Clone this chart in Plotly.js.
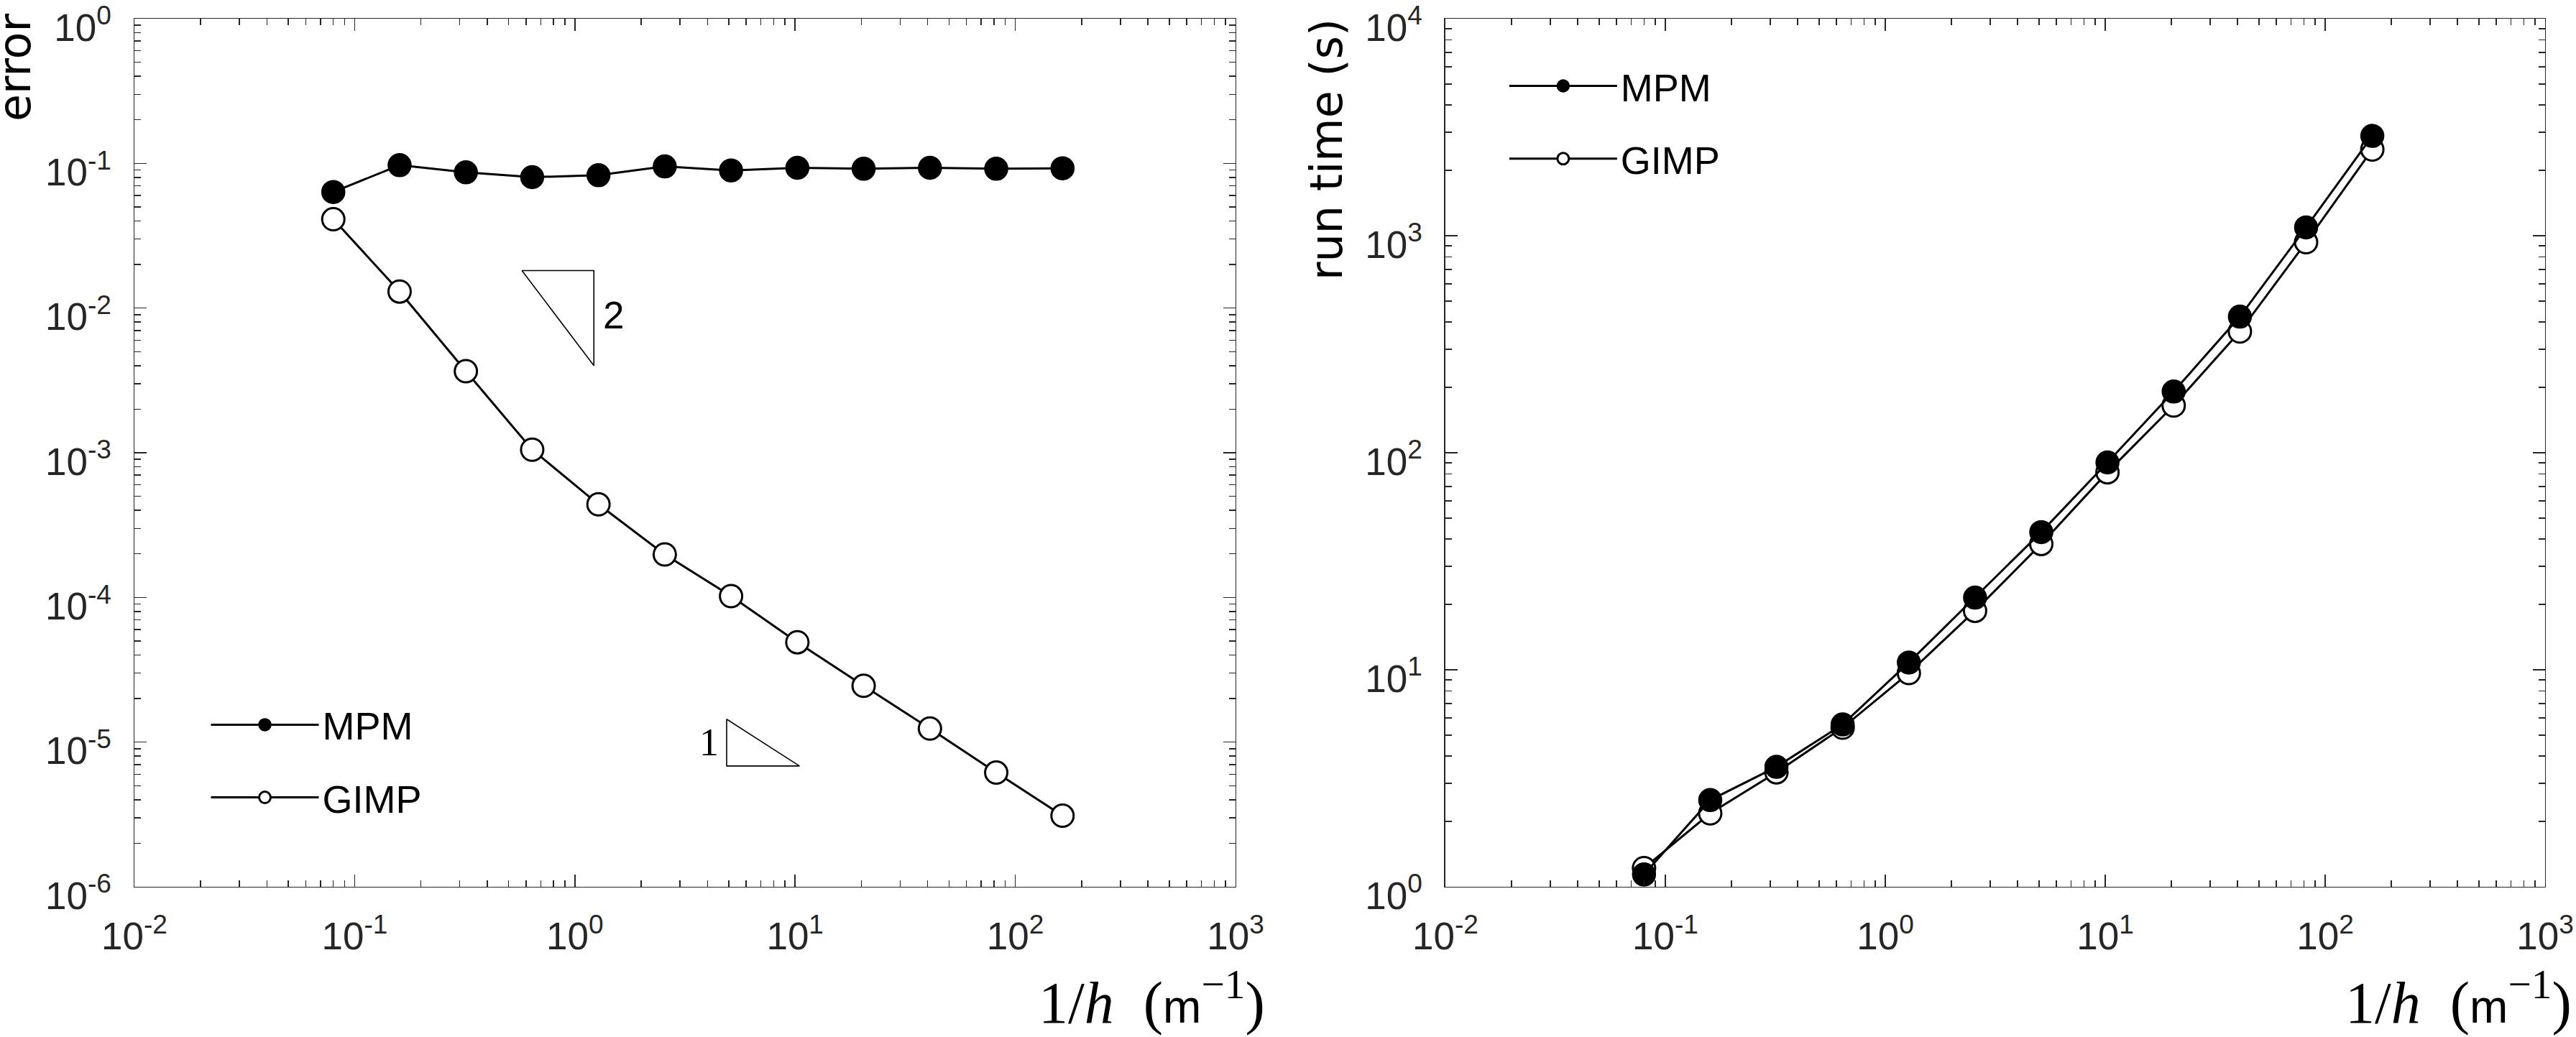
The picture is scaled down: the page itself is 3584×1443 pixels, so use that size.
<!DOCTYPE html>
<html><head><meta charset="utf-8">
<script src="https://cdn.plot.ly/plotly-3.0.1.min.js"></script>
<style>html,body{margin:0;padding:0;background:#fff;}</style>
</head><body><div id="plot" style="width:3584px;height:1443px;"></div>
<script>
// ---- data ----
const invH = [0.08, 0.16, 0.32, 0.64, 1.28, 2.56, 5.12, 10.24, 20.48, 40.96, 81.92, 163.84];
const errMPM = [0.0634, 0.0972, 0.0867, 0.0803, 0.0828, 0.0953, 0.0894, 0.0932, 0.0918, 0.0932, 0.0918, 0.0925];
const errGIMP = [0.0411, 0.0130, 0.00366, 0.00105, 0.00044, 0.000198, 0.000102, 0.000049, 0.0000245, 0.0000124, 0.00000616, 0.0000031];
const timeMPM = [1.14, 2.51, 3.57, 5.60, 10.8, 21.5, 43.1, 90.2, 191.5, 424, 1092, 2884];
const timeGIMP = [1.22, 2.18, 3.37, 5.41, 9.66, 18.7, 38.0, 81.3, 165, 362, 933, 2495];
const seriesNames = ['MPM', 'GIMP'];

const xTickVals = [0.01, 0.1, 1, 10, 100, 1000];
const xTickText = ['10<sup>-2</sup>', '10<sup>-1</sup>', '10<sup>0</sup>', '10<sup>1</sup>', '10<sup>2</sup>', '10<sup>3</sup>'];
const errTickVals = [1e-6, 1e-5, 1e-4, 1e-3, 1e-2, 1e-1, 1];
const errTickText = ['10<sup>-6</sup>', '10<sup>-5</sup>', '10<sup>-4</sup>', '10<sup>-3</sup>', '10<sup>-2</sup>', '10<sup>-1</sup>', '10<sup>0</sup>'];
const timeTickVals = [1, 10, 100, 1000, 10000];
const timeTickText = ['10<sup>0</sup>', '10<sup>1</sup>', '10<sup>2</sup>', '10<sup>3</sup>', '10<sup>4</sup>'];

// slope triangles (data units)
const slope2X = [0.575, 1.22, 1.22, 0.575];
const slope2Y = [0.01815, 0.01815, 0.0040, 0.01815];
const slope1X = [4.89, 4.89, 10.47, 4.89];
const slope1Y = [1.44e-5, 6.84e-6, 6.84e-6, 1.44e-5];
const slopeLabelText = ['2', '1'];
const slopeLabelX = [1.50, 4.07];
const slopeLabelY = [0.0089, 1.0e-5];

// ---- styles ----
const INK = '#262626';
const LW = 3;
const MS = 31;
const mpmMarker = {symbol: 'circle', size: MS, color: '#000', line: {color: '#000', width: 2.5}};
const gimpMarker = {symbol: 'circle', size: MS, color: '#fff', line: {color: '#000', width: 3}};

const traces = [
  {x: invH, y: errMPM, name: seriesNames[0], mode: 'lines+markers', xaxis: 'x', yaxis: 'y',
   line: {color: '#000', width: LW}, marker: mpmMarker, legend: 'legend', legendgroup: 'a', legendrank: 1},
  {x: invH, y: errGIMP, name: seriesNames[1], mode: 'lines+markers', xaxis: 'x', yaxis: 'y',
   line: {color: '#000', width: LW}, marker: gimpMarker, legend: 'legend', legendgroup: 'b', legendrank: 2},
  {x: slope2X, y: slope2Y, mode: 'lines', xaxis: 'x', yaxis: 'y', showlegend: false, hoverinfo: 'skip',
   line: {color: '#000', width: 1.6}},
  {x: slope1X, y: slope1Y, mode: 'lines', xaxis: 'x', yaxis: 'y', showlegend: false, hoverinfo: 'skip',
   line: {color: '#000', width: 1.6}},
  {x: invH, y: timeGIMP, name: seriesNames[1], mode: 'lines+markers', xaxis: 'x2', yaxis: 'y2',
   line: {color: '#000', width: LW}, marker: gimpMarker, legend: 'legend2', legendgroup: 'b2', legendrank: 2},
  {x: invH, y: timeMPM, name: seriesNames[0], mode: 'lines+markers', xaxis: 'x2', yaxis: 'y2',
   line: {color: '#000', width: LW}, marker: mpmMarker, legend: 'legend2', legendgroup: 'a2', legendrank: 1}
];

const tickFont = {family: 'Liberation Sans, Arial, sans-serif', size: 53, color: INK};
function logAxis(range, vals, text, domain, anchor, isX) {
  return {
    type: 'log', range: range, domain: domain, anchor: anchor,
    tickmode: 'array', tickvals: vals, ticktext: text,
    ticks: 'inside', ticklen: 17, tickwidth: 1.5, tickcolor: INK,
    minor: {ticks: 'inside', ticklen: 9, tickwidth: 1.5, tickcolor: INK, dtick: 'D1', showgrid: false},
    showline: true, linecolor: INK, linewidth: 1.5, mirror: 'allticks',
    showgrid: false, zeroline: false, ticklabeloverflow: 'allow',
    tickfont: tickFont, ticklabelstandoff: isX ? 22 : 20, ticklabelshift: isX ? 0 : 12
  };
}

const dom = {L: [0.05218, 0.47963], R: [0.56110, 0.98800], Y: [0.14484, 0.98198]};

const xTitle = '1/<i>h</i>\u00A0\u00A0(<span style="font-family:\'Liberation Sans\';font-size:64px">m</span><sup>\u22121</sup>)';
const annFontSerif = {family: 'Liberation Serif, Times New Roman, serif', size: 82, color: '#000'};
const ylabFont = {family: 'DejaVu Sans, sans-serif', size: 62, color: '#000'};

const annotations = [
  {text: 'error', xref: 'paper', yref: 'paper', x: 0.0059, y: 0.9349, textangle: -90,
   showarrow: false, xanchor: 'center', yanchor: 'middle', font: ylabFont},
  {text: 'run time (s)', xref: 'paper', yref: 'paper', x: 0.5151, y: 0.8559, textangle: -90,
   showarrow: false, xanchor: 'center', yanchor: 'middle', font: ylabFont},
  {text: xTitle, xref: 'paper', yref: 'paper', x: 0.4916, y: 0.0374, showarrow: false,
   xanchor: 'right', yanchor: 'middle', font: annFontSerif},
  {text: xTitle, xref: 'paper', yref: 'paper', x: 0.9989, y: 0.0374, showarrow: false,
   xanchor: 'right', yanchor: 'middle', font: annFontSerif},
  {text: slopeLabelText[0], xref: 'x', yref: 'y', x: Math.log10(slopeLabelX[0]), y: Math.log10(slopeLabelY[0]),
   showarrow: false, font: {family: 'Liberation Sans, Arial, sans-serif', size: 53, color: '#000'}},
  {text: slopeLabelText[1], xref: 'x', yref: 'y', x: Math.log10(slopeLabelX[1]), y: Math.log10(slopeLabelY[1]),
   showarrow: false, font: {family: 'Liberation Serif, serif', size: 54, color: '#000'}}
];

const legendFont = {family: 'Liberation Sans, Arial, sans-serif', size: 54, color: '#000'};
const layout = {
  width: 3584, height: 1443, autosize: false,
  margin: {l: 0, r: 0, t: 0, b: 0, pad: 0},
  paper_bgcolor: '#fff', plot_bgcolor: '#fff',
  showlegend: true,
  xaxis: logAxis([-2, 3], xTickVals, xTickText, dom.L, 'y', true),
  yaxis: logAxis([-6, 0], errTickVals, errTickText, dom.Y, 'x', false),
  xaxis2: logAxis([-2, 3], xTickVals, xTickText, dom.R, 'y2', true),
  yaxis2: logAxis([0, 4], timeTickVals, timeTickText, dom.Y, 'x2', false),
  legend: {x: 0.0805, y: 0.330, xanchor: 'left', yanchor: 'top', bgcolor: 'rgba(0,0,0,0)',
    borderwidth: 0, font: legendFont, itemwidth: 150, tracegroupgap: 28, traceorder: 'grouped', itemsizing: 'trace'},
  legend2: {x: 0.5845, y: 0.946, xanchor: 'left', yanchor: 'top', bgcolor: 'rgba(0,0,0,0)',
    borderwidth: 0, font: legendFont, itemwidth: 150, tracegroupgap: 28, traceorder: 'grouped', itemsizing: 'trace'},
  annotations: annotations
};

Plotly.newPlot('plot', traces, layout, {staticPlot: true, displayModeBar: false});
</script></body></html>
